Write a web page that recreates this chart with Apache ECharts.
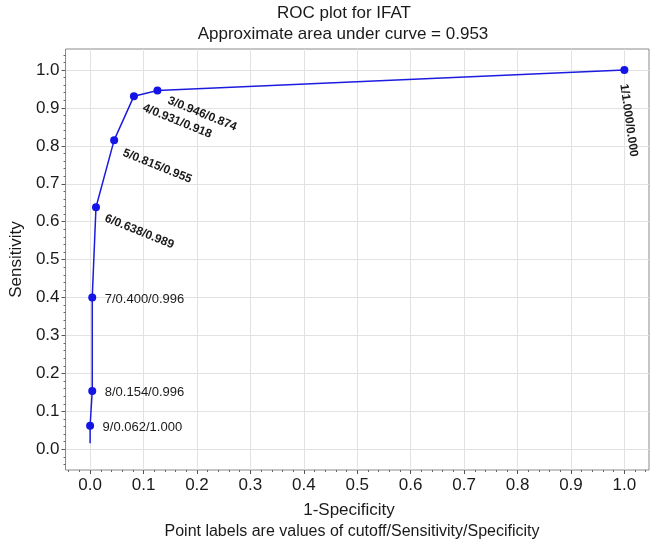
<!DOCTYPE html>
<html>
<head>
<meta charset="utf-8">
<script src="https://cdn.jsdelivr.net/npm/echarts@6/dist/echarts.min.js"></script>
<style>html,body{margin:0;padding:0;background:#fff}#chart{width:660px;height:554px}</style>
</head>
<body>
<div id="chart"></div>
<script>
// ---- data ----
const cutoffs = ['9', '8', '7', '6', '5', '4', '3', '1'];
const sensitivity = [0.062, 0.154, 0.400, 0.638, 0.815, 0.931, 0.946, 1.000];
const specificity = [1.000, 0.996, 0.996, 0.989, 0.955, 0.918, 0.874, 0.000];
const curveStart = [0.0, 0.016]; // lower end of the drawn curve (no marker)
const xTickLabels = [0.0, 0.1, 0.2, 0.3, 0.4, 0.5, 0.6, 0.7, 0.8, 0.9, 1.0];
const yTickLabels = [0.0, 0.1, 0.2, 0.3, 0.4, 0.5, 0.6, 0.7, 0.8, 0.9, 1.0];
const minorTicks = [-0.04, -0.02, 0.02, 0.04, 0.06, 0.08, 0.12, 0.14, 0.16, 0.18, 0.22, 0.24, 0.26, 0.28,
  0.32, 0.34, 0.36, 0.38, 0.42, 0.44, 0.46, 0.48, 0.52, 0.54, 0.56, 0.58, 0.62, 0.64, 0.66, 0.68,
  0.72, 0.74, 0.76, 0.78, 0.82, 0.84, 0.86, 0.88, 0.92, 0.94, 0.96, 0.98, 1.02, 1.04];

// ---- label styling (per point, same order as data); dx/dy are in the label's rotated frame ----
const labelLayouts = [
  { rotate: 0, dx: 12.5, dy: 2, size: 13, bold: false },
  { rotate: 0, dx: 12.5, dy: 2, size: 13, bold: false },
  { rotate: 0, dx: 12.5, dy: 2, size: 13, bold: false },
  { rotate: -22, dx: 12.6, dy: 6.3, size: 12, bold: true },
  { rotate: -22, dx: 13.0, dy: 8.0, size: 12, bold: true },
  { rotate: -22, dx: 12.8, dy: 7.0, size: 12, bold: true },
  { rotate: -22, dx: 13.6, dy: 4.9, size: 12, bold: true },
  { rotate: -82, dx: 13.8, dy: 2.7, size: 12, bold: true }
];

const X_MIN = -0.046, X_MAX = 1.0461, Y_MIN = -0.0546, Y_MAX = 1.0553;
const FONT = 'Liberation Sans, Arial, sans-serif';

const pointData = cutoffs.map((c, i) => {
  const L = labelLayouts[i];
  return {
    value: [+(1 - specificity[i]).toFixed(3), sensitivity[i]],
    label: {
      show: true,
      formatter: c + '/' + sensitivity[i].toFixed(3) + '/' + specificity[i].toFixed(3),
      position: 'inside',
      align: 'left',
      verticalAlign: 'middle',
      rotate: L.rotate,
      color: '#1a1a1a',
      fontFamily: FONT,
      fontSize: L.size,
      fontWeight: L.bold ? 'bold' : 'normal',
      textBorderWidth: 0
    }
  };
});
const lineData = [{ value: curveStart, symbol: 'none', label: { show: false } }].concat(pointData);

const chart = echarts.init(document.getElementById('chart'), null, { renderer: 'canvas' });
const majorX = { show: true, inside: false, length: 4, customValues: xTickLabels, lineStyle: { color: '#555', width: 1 } };
const majorY = { show: true, inside: false, length: 4, customValues: yTickLabels, lineStyle: { color: '#555', width: 1 } };
chart.setOption({
  animation: false,
  backgroundColor: '#fff',
  grid: { left: 63, right: 11, top: 49, bottom: 84, show: true, borderColor: '#8a8a8a', borderWidth: 1, backgroundColor: 'transparent' },
  xAxis: [{
    type: 'value', min: X_MIN, max: X_MAX, position: 'bottom',
    axisLine: { show: false, onZero: false },
    axisTick: majorX,
    axisLabel: { customValues: xTickLabels, formatter: v => v.toFixed(1), color: '#1a1a1a', fontSize: 17, fontFamily: FONT, margin: 7 },
    splitLine: { show: true, lineStyle: { color: '#e2e2e2', width: 1 } }
  }, {
    type: 'value', min: X_MIN, max: X_MAX, position: 'bottom',
    axisLine: { show: false, onZero: false },
    axisTick: { show: true, length: 2, customValues: minorTicks, lineStyle: { color: '#666', width: 1 } },
    axisLabel: { show: false },
    splitLine: { show: false }
  }],
  yAxis: [{
    type: 'value', min: Y_MIN, max: Y_MAX, position: 'left',
    name: 'Sensitivity', nameLocation: 'middle', nameGap: 39,
    nameTextStyle: { color: '#1a1a1a', fontSize: 17, fontFamily: FONT },
    axisLine: { show: false, onZero: false },
    axisTick: majorY,
    axisLabel: { customValues: yTickLabels, formatter: v => v.toFixed(1), color: '#1a1a1a', fontSize: 17, fontFamily: FONT, margin: 6 },
    splitLine: { show: true, lineStyle: { color: '#e2e2e2', width: 1 } }
  }, {
    type: 'value', min: Y_MIN, max: Y_MAX, position: 'left',
    axisLine: { show: false, onZero: false },
    axisTick: { show: true, length: 2, customValues: minorTicks, lineStyle: { color: '#666', width: 1 } },
    axisLabel: { show: false },
    splitLine: { show: false }
  }],
  series: [{
    type: 'line',
    xAxisIndex: 0, yAxisIndex: 0,
    data: lineData,
    symbol: 'circle', symbolSize: 8,
    showAllSymbol: true,
    lineStyle: { color: '#1c1ce0', width: 1.5 },
    itemStyle: { color: '#1414e6' },
    labelLayout: function (params) {
      const L = labelLayouts[params.dataIndex - 1];
      if (!L) return {};
      return { dx: L.dx, dy: L.dy, hideOverlap: false };
    },
    z: 5
  }],
  graphic: [
    { type: 'text', x: 344, y: 13, style: { text: 'ROC plot for IFAT', fill: '#1a1a1a', font: '17px ' + FONT, align: 'center', verticalAlign: 'middle' }, silent: true },
    { type: 'text', x: 343, y: 34, style: { text: 'Approximate area under curve = 0.953', fill: '#1a1a1a', font: '17px ' + FONT, align: 'center', verticalAlign: 'middle' }, silent: true },
    { type: 'text', x: 349, y: 510, style: { text: '1-Specificity', fill: '#1a1a1a', font: '17px ' + FONT, align: 'center', verticalAlign: 'middle' }, silent: true },
    { type: 'text', x: 352, y: 532, style: { text: 'Point labels are values of cutoff/Sensitivity/Specificity', fill: '#1a1a1a', font: '16px ' + FONT, align: 'center', verticalAlign: 'middle' }, silent: true }
  ]
});
</script>
</body>
</html>
